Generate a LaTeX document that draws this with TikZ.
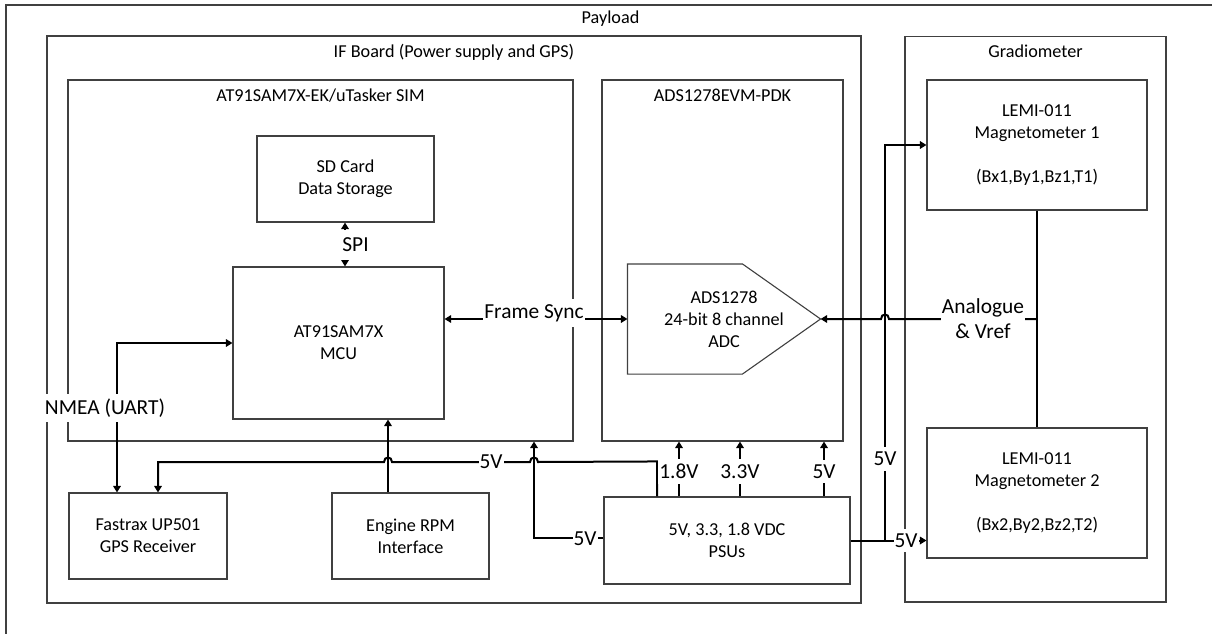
\documentclass[tikz,border=0pt]{standalone}
\usepackage{fontspec}
\setmainfont{Carlito}
\usetikzlibrary{arrows.meta,calc}
\tikzset{
  box/.style={draw=black!75, line width=1.1pt, inner sep=0pt, align=center, font=\fontsize{18.2}{22}\selectfont},
  cont/.style={draw=black!75, line width=1.1pt, inner sep=0pt},
  title/.style={anchor=base, inner sep=0pt, font=\fontsize{18.2}{22}\selectfont},
  conn/.style={line width=2pt, draw=black, >={Triangle[length=6.5pt,width=7.5pt]}},
  lbl/.style={fill=white, inner xsep=1pt, inner ysep=5pt, align=center, font=\fontsize{21.4}{25}\selectfont},
}
\begin{document}
\begin{tikzpicture}[x=1pt,y=-1pt]
\useasboundingbox (0,0) rectangle (1212,634);
\clip (0,0) rectangle (1212,634);
\fill[white] (0,0) rectangle (1212,634);

% containers
\node[cont, minimum width=1220, minimum height=700] (payload) at (616,355) {};
\node[title] (payloadT) at ([xshift=-5.5pt,yshift=-19pt]payload.north) {Payload};
\node[cont, minimum width=814, minimum height=567] (ifb) at (454,319.5) {};
\node[title] (ifbT) at ([yshift=-22pt]ifb.north) {IF Board (Power supply and GPS)};
\node[cont, minimum width=261, minimum height=565.5] (grad) at (1035.5,319.25) {};
\node[title] (gradT) at ([yshift=-21.5pt]grad.north) {Gradiometer};
\node[cont, minimum width=505, minimum height=361] (at91) at (320.5,260.5) {};
\node[title] (at91T) at ([yshift=-22pt]at91.north) {AT91SAM7X-EK/uTasker SIM};
\node[cont, minimum width=241, minimum height=361] (ads) at (722.5,260.5) {};
\node[title] (adsT) at ([yshift=-22pt]ads.north) {ADS1278EVM-PDK};

% blocks
\node[box, minimum width=177, minimum height=86] (sd) at (345.5,179) {SD Card\\Data Storage};
\node[box, minimum width=211, minimum height=152] (mcu) at (338.5,343) {AT91SAM7X\\MCU};
\node[box, minimum width=158, minimum height=86] (gps) at (148,536) {Fastrax UP501\\GPS Receiver};
\node[box, minimum width=157, minimum height=86] (engine) at (410.5,536) {Engine RPM\\Interface};
\node[box, minimum width=246, minimum height=87] (psu) at (727,540.5) {5V, 3.3, 1.8 VDC\\PSUs};
\node[box, minimum width=220, minimum height=130] (mag1) at (1037,145) {LEMI-011\\Magnetometer 1\\\mbox{}\\(Bx1,By1,Bz1,T1)};
\node[box, minimum width=220, minimum height=130] (mag2) at (1037,493) {LEMI-011\\Magnetometer 2\\\mbox{}\\(Bx2,By2,Bz2,T2)};
\node[box, draw=none, minimum width=192, minimum height=109] (adc) at (724,319) {ADS1278\\24-bit 8 channel\\ADC};
\draw[draw=black!75, line width=1.1pt] (adc.north west) -- ([xshift=115pt]adc.north west) -- (adc.east)
  -- ([xshift=115pt]adc.south west) -- (adc.south west) -- cycle;

\coordinate (vx) at (885,0);
\coordinate (lblrow) at (0,471.5);

% connectors
\draw[conn,<->] (mcu.west) -| ([xshift=-31pt]gps.north);
\draw[conn,<->] ([xshift=-0.5pt]sd.south) -- ([xshift=-0.5pt]sd.south |- mcu.north);
\draw[conn,<->] (mcu.east |- adc.west) -- (adc.west);
\draw[conn,->] ([xshift=-22.5pt]engine.north) -- ([xshift=-22.5pt]engine.north |- mcu.south);
\draw[conn,->] ([xshift=-70pt]psu.north) -- ++(0,-35) -- (538,462)
  .. controls (538,456) and (530,456) .. (530,462) -- (392,462)
  .. controls (392,456) and (384,456) .. (384,462) -- (158,462) -- ([xshift=10pt]gps.north);
\draw[conn,->] ([yshift=2.5pt]psu.west) -| ([xshift=213.5pt]at91.south);
\foreach \dx/\t/\n in {-48/1.8V/a, 13/3.3V/b, 97/5V/c}{
  \draw[conn,->] ([xshift=\dx pt]psu.north) -- ([xshift=\dx pt]psu.north |- ads.south);
  \node[lbl] (out\n) at ([xshift=\dx pt]psu.north |- lblrow) {\t};
}
\draw[conn,->] (psu.east) -- (psu.east -| mag2.west);
\draw[conn,->] (psu.east -| vx) |- (mag1.west);
\draw[conn] (mag1.south) -- (mag2.north);
\draw[conn,->] (mag1.south |- adc.east) -- (889,319)
  .. controls (889,313) and (881,313) .. (881,319) -- (adc.east);

% labels
\node[lbl] (nmea) at (105,408) {NMEA (UART)};
\node[lbl, inner ysep=0pt, minimum height=30pt] (spi) at (355.5,245) {SPI};
\node[lbl] (fs) at (534,313) {Frame Sync};
\node[lbl] (v5bus) at (491,462) {5V};
\node[lbl] (v5left) at (585,539) {5V};
\node[lbl] (v5vert) at (885,459) {5V};
\node[lbl] (v5mag) at (906,540.5) {5V};
\node[lbl, inner ysep=1pt] (ana) at (983,319) {Analogue\\\& Vref};
\end{tikzpicture}
\end{document}
